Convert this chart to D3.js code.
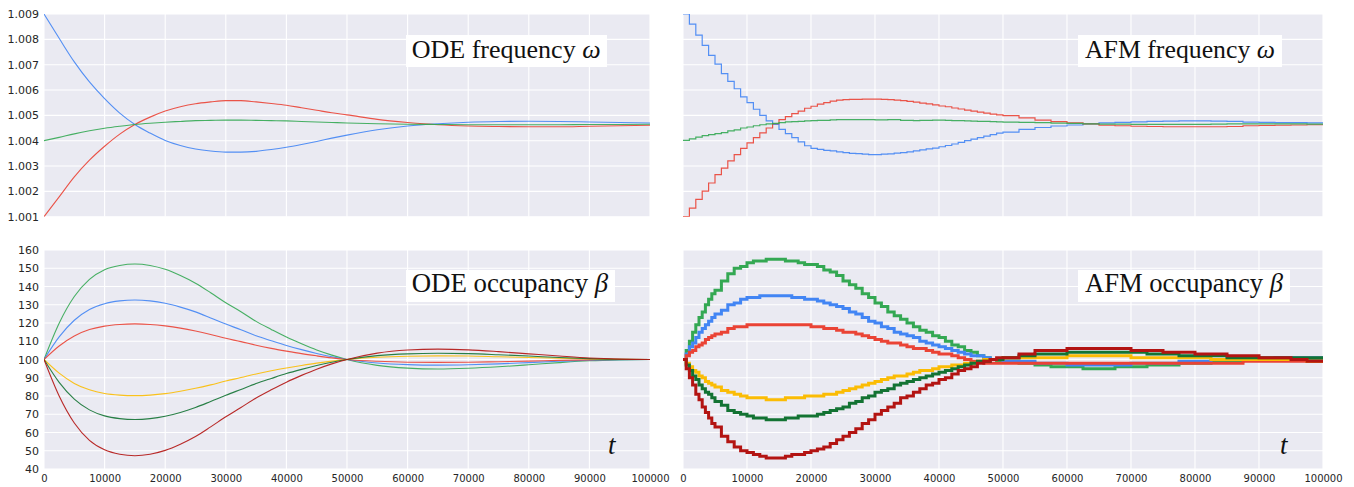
<!DOCTYPE html>
<html><head><meta charset="utf-8">
<script src="https://cdn.jsdelivr.net/npm/d3@7"></script>
<style>body{margin:0;background:#fff} svg{display:block}</style>
</head><body>
<svg id="c" width="1354" height="487"></svg>
<script>
// ---------- tick labels ----------
const xTicks = [0,10000,20000,30000,40000,50000,60000,70000,80000,90000,100000];
const freqTicks = [1.001,1.002,1.003,1.004,1.005,1.006,1.007,1.008,1.009];
const occTicks = [40,50,60,70,80,90,100,110,120,130,140,150,160];

// ---------- ODE sample times ----------
const tODE = [0,2500,5000,7500,10000,12500,15000,17500,20000,22500,25000,27500,30000,32500,35000,37500,40000,42500,45000,47500,50000,
  55000,60000,65000,70000,75000,80000,85000,90000,95000,100000];

// ODE frequency omega
const odeFreqBlue = [1.00900,1.00804,1.00711,1.00632,1.00566,1.00509,1.00464,1.00430,1.00401,1.00381,1.00367,1.00359,1.00355,1.00355,1.00358,1.00365,1.00374,1.00385,1.00397,1.00410,1.00422,
  1.00443,1.00458,1.00467,1.00473,1.00476,1.00477,1.00476,1.00474,1.00472,1.00470];
const odeFreqRed = [1.00100,1.00178,1.00257,1.00323,1.00378,1.00426,1.00464,1.00493,1.00517,1.00534,1.00546,1.00553,1.00558,1.00558,1.00553,1.00547,1.00540,1.00530,1.00520,1.00510,1.00502,
  1.00484,1.00472,1.00463,1.00458,1.00456,1.00455,1.00455,1.00457,1.00459,1.00461];
const odeFreqGreen = [1.00400,1.00413,1.00427,1.00439,1.00449,1.00457,1.00464,1.00469,1.00473,1.00476,1.00479,1.00480,1.00481,1.00481,1.00480,1.00479,1.00478,1.00476,1.00474,1.00472,1.00470,
  1.00467,1.00465,1.00464,1.00463,1.00463,1.00463,1.00463,1.00464,1.00464,1.00465];

// ODE occupancy beta
const odeOccGreen = [100,119.9,134.5,143.9,149.2,151.5,152.3,151.5,149.4,146.0,141.8,136.6,131.1,126.2,120.9,116.5,112.3,108.6,105.2,102.4,100,
  96.8,95.3,94.8,95.2,96.0,97.1,98.3,99.3,99.8,100];
const odeOccBlue = [100,112.4,121.5,127.4,130.6,132.1,132.6,132.1,130.8,128.7,126.1,122.8,119.4,116.3,113.0,110.3,107.7,105.4,103.3,101.5,100,
  98.1,97.2,96.9,97.1,97.6,98.3,99.0,99.6,99.9,100];
const odeOccRed = [100,107.4,112.9,116.4,118.3,119.2,119.5,119.2,118.4,117.2,115.6,113.7,111.6,109.8,107.8,106.1,104.6,103.2,102.0,100.9,100,
  99.0,98.5,98.4,98.5,98.8,99.1,99.5,99.8,100.0,100];
const odeOccYellow = [100,92.5,86.9,83.4,81.4,80.5,80.2,80.5,81.3,82.6,84.2,86.1,88.2,90.1,92.1,93.8,95.3,96.7,98.0,99.1,100,
  101.2,101.8,102.0,101.9,101.5,101.1,100.7,100.3,100.1,100];
const odeOccDkGreen = [100,87.5,78.3,72.4,69.1,67.6,67.1,67.6,68.9,71.0,73.7,77.0,80.4,83.6,86.8,89.6,92.3,94.6,96.7,98.5,100,
  102.1,103.1,103.4,103.2,102.6,101.9,101.1,100.5,100.1,100];
const odeOccDkRed = [100,80.0,65.2,55.7,50.5,48.1,47.3,48.1,50.2,53.6,57.8,63.1,68.6,73.7,78.9,83.4,87.6,91.3,94.7,97.6,100,
  103.5,105.2,105.7,105.3,104.3,103.1,101.9,100.8,100.2,100];

// ---------- AFM sample times (step starts) ----------
const tAFMFreq = [0,1000,2000,3000,4000,5000,6000,7000,8000,9000,10000,11000,12000,13000,14000,15000,16000,17000,18000,19000,
  20000,21000,22000,23000,24000,25000,26000,27000,28000,29000,30000,31000,32000,33000,34000,35000,36000,37000,38000,39000,
  40000,41000,42000,43000,44000,45000,46000,47000,48000,49000,50000,
  52500,55000,57500,60000,62500,65000,67500,70000,72500,75000,77500,80000,82500,85000,87500,90000,92500,95000,97500,100000];
const tAFMOcc = [0,500,1000,1500,2000,2500,3000,3500,4000,4500,5000,
  6000,7000,8000,9000,10000,11000,12000,13000,14000,15000,16000,17000,18000,19000,
  20000,21000,22000,23000,24000,25000,26000,27000,28000,29000,30000,31000,32000,33000,34000,35000,36000,37000,38000,39000,
  40000,41000,42000,43000,44000,45000,46000,47000,48000,49000,50000,
  52500,55000,57500,60000,62500,65000,67500,70000,72500,75000,77500,80000,82500,85000,87500,90000,92500,95000,97500,100000];

// AFM frequency omega
const afmFreqBlue = [1.00900,1.00860,1.00817,1.00776,1.00737,1.00702,1.00665,1.00634,1.00605,1.00573,1.00550,1.00524,1.00500,1.00478,1.00464,1.00445,1.00428,1.00412,1.00395,1.00380,
  1.00370,1.00366,1.00362,1.00360,1.00356,1.00353,1.00350,1.00349,1.00347,1.00345,1.00345,1.00347,1.00348,1.00351,1.00353,1.00356,1.00360,1.00364,1.00368,1.00371,
  1.00376,1.00381,1.00387,1.00393,1.00400,1.00406,1.00412,1.00418,1.00424,1.00430,1.00434,
  1.00445,1.00452,1.00458,1.00462,1.00466,1.00470,1.00472,1.00474,1.00476,1.00477,1.00478,1.00478,1.00477,1.00476,1.00473,1.00472,1.00471,1.00471,1.00470,1.00468];
const afmFreqRed = [1.00100,1.00134,1.00168,1.00201,1.00233,1.00266,1.00292,1.00320,1.00345,1.00370,1.00391,1.00412,1.00431,1.00450,1.00467,1.00483,1.00495,1.00507,1.00517,1.00528,
  1.00536,1.00544,1.00550,1.00556,1.00560,1.00562,1.00563,1.00563,1.00564,1.00564,1.00564,1.00563,1.00562,1.00560,1.00558,1.00555,1.00552,1.00548,1.00545,1.00541,
  1.00537,1.00534,1.00529,1.00525,1.00521,1.00517,1.00513,1.00509,1.00505,1.00502,1.00499,
  1.00490,1.00481,1.00475,1.00470,1.00466,1.00461,1.00459,1.00457,1.00456,1.00455,1.00455,1.00455,1.00455,1.00456,1.00459,1.00460,1.00461,1.00462,1.00463,1.00463];
const afmFreqGreen = [1.00401,1.00407,1.00414,1.00420,1.00424,1.00428,1.00432,1.00439,1.00443,1.00450,1.00454,1.00459,1.00463,1.00466,1.00468,1.00471,1.00474,1.00475,1.00476,1.00478,
  1.00479,1.00480,1.00480,1.00482,1.00483,1.00483,1.00483,1.00483,1.00483,1.00483,1.00482,1.00482,1.00483,1.00483,1.00480,1.00480,1.00479,1.00480,1.00480,1.00481,
  1.00481,1.00480,1.00479,1.00479,1.00478,1.00477,1.00476,1.00476,1.00475,1.00474,1.00473,
  1.00472,1.00471,1.00469,1.00468,1.00466,1.00465,1.00465,1.00464,1.00464,1.00464,1.00464,1.00464,1.00465,1.00466,1.00466,1.00466,1.00466,1.00466,1.00465,1.00465];

// AFM occupancy beta
const afmOccGreen = [100,105,110,115,119,123,126,130,133,136,138,143,147,150,151,153,154,154,155,155,155,154,154,153,152,
  152,151,149,148,146,143,141,139,136,134,131,129,126,124,122,120,118,116,115,113,112,110,108,107,105,104,102,101,100,99,99,
  98,97,96,96,95,95,96,96,97,97,98,98,99,99,100,100,100,100,100,100];
const afmOccBlue = [100,103,107,109,112,115,117,119,121,123,125,127,130,131,133,134,134,135,135,135,135,135,134,134,133,
  133,132,131,130,129,128,126,125,123,121,120,118,117,115,114,113,112,110,109,108,107,106,105,104,103,102,102,101,100,100,99,
  99,98,98,97,97,97,97,98,98,98,99,99,100,100,100,100,101,101,101,101];
const afmOccRed = [100,102,104,105,107,108,109,111,112,113,114,115,117,118,118,119,119,119,119,119,119,119,119,119,119,
  118,118,117,117,116,115,115,114,113,112,111,110,109,109,108,107,106,106,105,104,103,103,102,101,100,99,99,98,98,98,98,
  98,98,98,98,98,98,98,98,98,98,98,98,98,98,99,99,99,99,99,99];
const afmOccYellow = [100,98,96,94,93,91,90,88,87,86,85,83,82,81,80,79,79,79,78,78,78,79,79,79,80,
  80,80,81,81,82,83,84,85,86,87,88,89,90,91,91,92,93,94,94,95,96,96,97,97,98,98,99,100,100,100,101,
  101,101,101,102,102,102,102,101,101,101,101,101,100,100,100,100,100,100,99,99];
const afmOccDkGreen = [100,97,94,91,89,86,84,82,81,79,77,75,72,71,70,69,68,68,67,67,67,68,68,69,69,
  69,70,71,72,73,74,76,77,79,80,82,83,84,86,87,88,89,90,91,92,93,94,95,96,97,98,99,99,100,100,101,
  102,103,103,104,104,104,104,104,103,103,102,102,102,101,101,101,101,101,101,101];
const afmOccDkRed = [100,95,90,86,81,78,74,71,68,65,63,58,55,52,50,49,48,47,46,46,46,47,48,48,49,
  50,51,52,54,56,58,60,62,65,67,70,72,74,76,79,80,82,84,86,87,89,90,92,94,95,96,98,99,100,101,101,
  103,105,105,106,106,106,106,105,105,104,104,103,103,102,102,101,101,100,99,99];

// ---------- colours ----------
const C = {blue:"#4285F4", red:"#EA4335", green:"#34A853", yellow:"#FBBC04", dkgreen:"#137333", dkred:"#B31412"};

// ---------- drawing ----------
const svg = d3.select("#c");
const BG = "#EAEAF2";
const LEFT = [44,650], RIGHT = [683,1323];
const TOP = [216.7,14], BOT = [469,250];

const panels = [
  {id:"p1", xr:LEFT,  yr:TOP, dom:[1.001,1.009], yt:freqTicks, ylab:true,  xlab:false, fmt:d3.format(".3f")},
  {id:"p2", xr:RIGHT, yr:TOP, dom:[1.001,1.009], yt:freqTicks, ylab:false, xlab:false},
  {id:"p3", xr:LEFT,  yr:BOT, dom:[40,160], yt:occTicks, ylab:true,  xlab:true, fmt:d3.format("d")},
  {id:"p4", xr:RIGHT, yr:BOT, dom:[40,160], yt:occTicks, ylab:false, xlab:true}
];

panels.forEach(p => {
  p.x = d3.scaleLinear().domain([0,100000]).range(p.xr);
  p.y = d3.scaleLinear().domain(p.dom).range(p.yr);
  const g = svg.append("g");
  p.g = g;
  g.append("rect").attr("x",p.xr[0]).attr("y",p.yr[1]).attr("width",p.xr[1]-p.xr[0]).attr("height",p.yr[0]-p.yr[1]).attr("fill",BG);
  svg.append("clipPath").attr("id","clip"+p.id).append("rect")
    .attr("x",p.xr[0]).attr("y",p.yr[1]).attr("width",p.xr[1]-p.xr[0]).attr("height",p.yr[0]-p.yr[1]);
  // grid
  g.selectAll(".gx").data(xTicks).enter().append("line")
    .attr("x1",d=>p.x(d)).attr("x2",d=>p.x(d)).attr("y1",p.yr[1]).attr("y2",p.yr[0])
    .attr("stroke","#fff").attr("stroke-width",1.1);
  g.selectAll(".gy").data(p.yt).enter().append("line")
    .attr("y1",d=>p.y(d)).attr("y2",d=>p.y(d)).attr("x1",p.xr[0]).attr("x2",p.xr[1])
    .attr("stroke","#fff").attr("stroke-width",1.1);
  if (p.ylab) {
    const ax = d3.axisLeft(p.y).tickValues(p.yt).tickFormat(p.fmt).tickSize(0).tickPadding(5);
    const a = svg.append("g").attr("transform",`translate(${p.xr[0]},0)`).call(ax);
    a.select(".domain").remove();
    a.selectAll("text").attr("font-family","DejaVu Sans").attr("font-size",11).attr("fill","#262626");
  }
  if (p.xlab) {
    const ax = d3.axisBottom(p.x).tickValues(xTicks).tickFormat(d3.format("d")).tickSize(0).tickPadding(6);
    const a = svg.append("g").attr("transform",`translate(0,${p.yr[0]})`).call(ax);
    a.select(".domain").remove();
    a.selectAll("text").attr("font-family","DejaVu Sans").attr("font-size",10).attr("fill","#262626");
  }
  p.lines = g.append("g").attr("clip-path",`url(#clip${p.id})`);
});

function draw(p, ts, vals, color, width, curve, opacity) {
  const line = d3.line().x((d,i)=>p.x(ts[i])).y(d=>p.y(d)).curve(curve);
  p.lines.append("path").datum(vals).attr("d",line).attr("fill","none")
    .attr("stroke",color).attr("stroke-width",width).attr("stroke-opacity",opacity)
    .attr("stroke-linejoin","miter");
}
const smooth = d3.curveMonotoneX, step = d3.curveStepAfter;

// ODE frequency
draw(panels[0], tODE, odeFreqBlue, C.blue, 1.1, smooth, 0.9);
draw(panels[0], tODE, odeFreqRed, C.red, 1.1, smooth, 0.9);
draw(panels[0], tODE, odeFreqGreen, C.green, 1.1, smooth, 0.9);
// AFM frequency
draw(panels[1], tAFMFreq, afmFreqBlue, C.blue, 1.2, step, 0.9);
draw(panels[1], tAFMFreq, afmFreqRed, C.red, 1.2, step, 0.9);
draw(panels[1], tAFMFreq, afmFreqGreen, C.green, 1.2, step, 0.9);
// ODE occupancy
[[odeOccGreen,C.green],[odeOccBlue,C.blue],[odeOccRed,C.red],[odeOccYellow,C.yellow],[odeOccDkGreen,C.dkgreen],[odeOccDkRed,C.dkred]]
  .forEach(([v,c]) => draw(panels[2], tODE, v, c, 1.1, smooth, 0.9));
// AFM occupancy
[[afmOccGreen,C.green],[afmOccBlue,C.blue],[afmOccRed,C.red],[afmOccYellow,C.yellow],[afmOccDkGreen,C.dkgreen],[afmOccDkRed,C.dkred]]
  .forEach(([v,c]) => draw(panels[3], tAFMOcc, v, c, 3, step, 1));

// ---------- titles ----------
const titles = [
  {a:"ODE frequency ", s:"ω", bx:406, by:35, bw:201, bh:32, tx:411.7, base:57.5, w:189},
  {a:"AFM frequency ", s:"ω", bx:1078, by:35, bw:204, bh:32, tx:1085, base:57.5, w:190},
  {a:"ODE occupancy ", s:"β", bx:406, by:270, bw:209, bh:32, tx:411.7, base:292.3, w:196.6},
  {a:"AFM occupancy ", s:"β", bx:1078, by:270, bw:212, bh:32, tx:1085, base:292.3, w:198}
];
titles.forEach(t => {
  svg.append("rect").attr("x",t.bx).attr("y",t.by).attr("width",t.bw).attr("height",t.bh).attr("fill","#fff");
  const tx = svg.append("text").attr("x",t.tx).attr("y",t.base)
    .attr("font-family","'Liberation Serif', 'DejaVu Serif', serif").attr("font-size",25).attr("fill","#111");
  tx.append("tspan").text(t.a);
  tx.append("tspan").attr("font-style","italic").text(t.s);
  const L = tx.node().getComputedTextLength();
  if (L > 0) tx.attr("font-size", 25 * t.w / L);
});
[[608,454],[1280,454]].forEach(([x,y]) => {
  svg.append("text").attr("x",x).attr("y",y).attr("font-family","'Liberation Serif', serif")
    .attr("font-style","italic").attr("font-size",27).attr("fill","#111").text("t");
});
</script>
</body></html>
